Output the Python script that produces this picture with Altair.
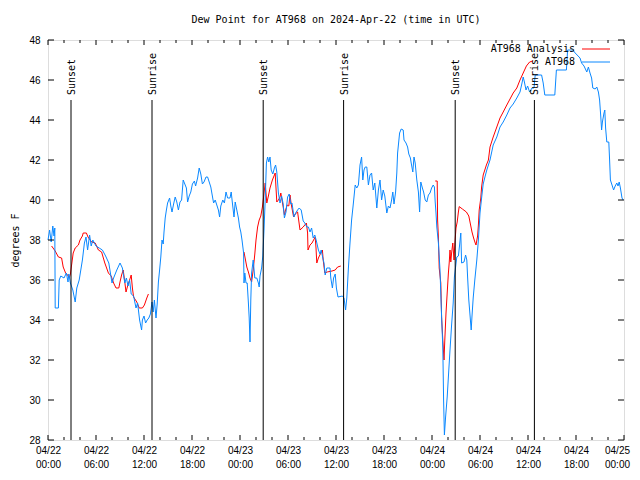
import altair as alt
import pandas as pd

FONT = "DejaVu Sans Mono"

# Observations (hours since 2024-04-22 00:00 UTC, degrees F)
blue_hours = [0.0, 0.2, 0.4, 0.6, 0.75, 0.85, 0.9, 1.3, 1.4, 1.6, 2.0, 2.3, 2.5, 2.6, 2.8, 3.1, 3.4, 3.6, 3.9,
              4.3, 4.55, 4.75, 4.95, 5.2, 5.4, 5.6, 6.0, 6.4, 6.8, 7.2, 7.6, 8.0, 8.2, 8.6, 9.0, 9.3, 9.6, 9.8,
              10.0, 10.2, 10.4, 10.7, 11.0, 11.2, 11.45, 11.7, 11.8, 12.0, 12.2, 12.4, 12.6, 12.8, 13.0, 13.15,
              13.3, 13.5, 13.65, 13.8, 13.95, 14.1, 14.25, 14.4, 14.5, 14.65, 14.8, 14.95, 15.2, 15.35, 15.5,
              15.7, 15.9, 16.1, 16.3, 16.5, 16.7, 16.9, 17.1, 17.3, 17.45, 17.65, 17.85, 18.05, 18.3, 18.45,
              18.7, 18.9, 19.1, 19.3, 19.5, 19.75, 19.95, 20.15, 20.35, 20.5, 20.7, 20.9, 21.1, 21.3, 21.45,
              21.6, 21.85, 22.05, 22.25, 22.45, 22.75, 22.9, 23.05, 23.25, 23.4, 23.6, 23.8, 23.95, 24.1, 24.25,
              24.45, 24.5, 24.6, 24.75, 24.9, 25.05, 25.15, 25.25, 25.35, 25.45, 25.65, 25.85, 26.1, 26.3, 26.4,
              26.5, 26.7, 26.85, 27.0, 27.15, 27.3, 27.45, 27.6, 27.75, 27.9, 28.1, 28.3, 28.45, 28.6, 28.8,
              29.0, 29.2, 29.4, 29.55, 29.75, 29.95, 30.15, 30.35, 30.5, 30.75, 30.95, 31.2, 31.4, 31.65, 31.9,
              32.1, 32.35, 32.55, 32.75, 32.95, 33.15, 33.35, 33.55, 33.8, 34.0, 34.15, 34.35, 34.5, 34.65,
              34.85, 35.25, 35.35, 35.55, 35.7, 35.9, 36.05, 36.25, 36.8, 37.0, 37.2, 37.35, 37.55, 37.75,
              37.95, 38.15, 38.4, 38.6, 38.8, 39.0, 39.2, 39.35, 39.5, 39.65, 39.85, 40.05, 40.25, 40.45,
              40.65, 40.85, 41.1, 41.3, 41.5, 41.7, 41.9, 42.1, 42.35, 42.55, 42.75, 42.95, 43.1, 43.25, 43.45,
              43.6, 43.7, 43.95, 44.15, 44.4, 44.5, 44.75, 44.95, 45.1, 45.3, 45.4, 45.6, 45.75, 45.9, 46.1,
              46.3, 46.45, 46.6, 46.8, 46.95, 47.15, 47.35, 47.55, 47.75, 47.95, 48.15, 48.3, 48.4, 48.5, 48.6,
              48.8, 49.0, 49.2, 49.35, 49.45, 49.55, 49.7, 49.9, 50.1, 50.25, 50.45, 50.65, 50.8, 50.95, 51.1,
              51.3, 51.45, 51.6, 51.7, 52.0, 52.2, 52.35, 52.45, 52.6, 52.75, 52.9, 53.0, 53.15, 53.35, 53.6,
              53.8, 54.0, 54.2, 54.4, 54.65, 54.85, 55.25, 55.65, 56.1, 56.5, 56.9, 57.35, 57.75, 58.15, 58.6,
              59.0, 59.25, 59.4, 59.55, 59.75, 59.95, 60.2, 60.5, 60.75, 60.9, 61.7, 61.9, 62.1, 63.35, 63.55,
              64.8, 64.95, 65.6, 65.9, 66.5, 66.7, 67.0, 67.35, 67.55, 67.75, 67.95, 68.1, 68.4, 68.6, 68.8,
              68.95, 69.1, 69.2, 69.3, 69.5, 69.6, 69.7, 69.85, 70.1, 70.2, 70.3, 70.5, 70.7, 70.9, 71.1,
              71.25, 71.4, 71.55, 71.75, 71.9]
blue_vals = [38.0, 38.5, 37.9, 38.7, 38.2, 38.6, 34.6, 34.6, 36.0, 36.2, 36.1, 36.35, 35.9, 36.3, 35.85, 35.5,
             34.9, 35.6, 36.0, 37.0, 37.85, 38.15, 37.5, 38.25, 37.7, 38.0, 37.7, 37.6, 37.5, 37.2, 36.85, 35.85,
             36.1, 36.5, 36.85, 36.6, 35.85, 36.1, 35.7, 36.0, 35.3, 35.2, 34.6, 34.85, 34.0, 33.5, 34.0, 34.2,
             33.85, 34.0, 34.1, 34.3, 34.9, 34.4, 35.0, 34.1, 34.8, 35.9, 36.5, 37.15, 38.0, 37.8, 38.4, 39.1,
             39.5, 39.85, 40.1, 39.7, 39.4, 39.8, 40.15, 39.9, 39.5, 39.9, 40.0, 41.0, 40.8, 40.6, 39.9, 40.2,
             40.4, 40.8, 40.95, 40.7, 41.1, 41.6, 41.3, 40.8, 40.9, 41.15, 41.15, 40.9, 40.65, 40.3, 39.85, 40.0,
             39.75, 39.5, 39.15, 39.7, 40.0, 39.85, 40.4, 40.1, 40.1, 40.4, 39.85, 39.15, 39.9, 39.5, 39.1, 38.65,
             38.4, 38.0, 37.35, 35.85, 36.35, 35.85, 35.85, 34.85, 34.1, 32.9, 35.0, 36.35, 37.0, 36.1, 36.1,
             35.85, 35.65, 36.2, 36.6, 37.2, 38.5, 40.0, 41.85, 42.15, 41.9, 42.15, 41.5, 41.3, 41.6, 41.75,
             41.4, 40.35, 39.85, 40.2, 39.8, 39.1, 39.4, 40.15, 40.3, 39.8, 39.85, 39.15, 39.35, 39.5, 39.6,
             39.5, 38.95, 38.85, 38.65, 38.65, 38.4, 38.6, 38.1, 38.25, 37.95, 37.5, 37.3, 37.5, 37.1, 36.85,
             36.25, 36.6, 36.6, 36.1, 35.6, 36.1, 36.3, 35.6, 35.15, 35.2, 35.1, 34.5, 35.1, 36.6, 37.85, 39.0,
             39.75, 40.75, 40.6, 40.75, 41.75, 42.15, 41.0, 41.5, 41.65, 41.65, 40.75, 41.25, 41.35, 40.5, 40.85,
             39.6, 40.5, 41.0, 40.0, 40.5, 40.2, 39.35, 39.7, 39.6, 40.0, 40.4, 39.8, 40.4, 41.35, 42.35, 43.35,
             43.55, 43.5, 43.0, 42.85, 42.65, 42.3, 42.1, 41.85, 41.4, 42.15, 41.85, 41.0, 40.4, 39.4, 40.9,
             40.6, 40.4, 40.0, 39.9, 40.25, 40.35, 40.6, 40.75, 40.65, 39.9, 39.35, 38.65, 37.85, 36.5, 34.15,
             32.65, 30.0, 28.25, 29.15, 30.15, 31.5, 32.5, 33.75, 34.85, 36.15, 36.65, 37.15, 37.2, 37.75, 38.35,
             36.85, 36.9, 37.25, 37.0, 36.15, 35.0, 34.25, 33.5, 34.2, 35.1, 36.0, 37.0, 38.0, 39.35, 40.1,
             40.8, 41.2, 41.5, 42.0, 42.75, 43.15, 43.65, 43.9, 44.25, 44.6, 44.8, 45.1, 45.4, 45.85, 46.15,
             45.9, 45.5, 45.7, 45.4, 45.6, 45.6, 46.25, 46.25, 45.85, 45.25, 45.25, 46.5, 46.5, 47.5, 47.5,
             47.35, 47.1, 46.85, 46.7, 46.4, 46.65, 46.35, 46.1, 45.6, 45.55, 45.65, 45.4, 45.0, 44.15, 43.5,
             43.9, 44.35, 44.5, 43.6, 42.9, 42.9, 42.0, 41.0, 40.75, 40.5, 40.7, 40.85, 40.7, 40.9, 40.6, 40.1,
             40.0]

# Analysis (three separate runs)
red_hours = [0.45, 0.9, 1.3, 1.7, 1.9, 2.2, 2.45, 2.65, 2.8, 2.9, 3.0, 3.15, 3.4, 3.8, 4.0, 4.3, 4.4, 4.8, 5.0,
             5.45, 5.9, 6.3, 6.7, 7.1, 7.55, 7.9, 8.2, 8.5, 8.85, 9.0, 9.2, 9.4, 9.6, 9.75, 9.95, 10.2, 10.4,
             10.55, 10.7, 11.1, 11.4, 11.8, 12.05, 12.35, 12.55,
             24.5, 24.85, 25.05, 25.25, 25.45, 25.65, 25.85, 26.0, 26.2, 26.4, 26.6, 26.8, 26.95, 27.15, 27.35,
             27.55, 27.75, 28.05, 28.4, 28.5, 28.6, 28.8, 29.0, 29.1, 29.4, 29.55, 29.7, 29.9, 30.1, 30.25, 30.4,
             30.7, 30.9, 31.2, 31.5, 31.9, 32.3, 32.45, 32.5, 32.75, 33.0, 33.2, 33.4, 33.5, 33.6, 33.8, 34.1,
             34.3, 34.4, 34.6, 34.9, 35.5, 35.9, 36.2, 36.6,
             48.4, 48.65, 48.7, 48.8, 48.9, 49.1, 49.2, 49.35, 49.5, 49.6, 49.75, 49.9, 50.05, 50.15, 50.25,
             50.35, 50.45, 50.6, 50.75, 50.85, 51.0, 51.15, 51.3, 51.4, 51.8, 52.3, 52.6, 52.8, 53.0, 53.2,
             53.4, 53.5, 53.7, 53.8, 53.9, 54.1, 54.2, 54.4, 54.6, 54.8, 55.05, 55.25, 55.65, 56.1, 56.5,
             56.9, 57.35, 57.75, 58.15, 58.6, 59.0, 59.4, 59.8, 60.2, 60.6]
red_vals = [37.7, 37.45, 37.15, 37.1, 36.65, 36.35, 36.25, 36.1, 36.3, 36.6, 36.9, 37.35, 37.6, 37.75, 38.0,
            38.2, 38.35, 38.35, 38.15, 37.9, 37.85, 37.5, 37.4, 36.85, 36.35, 36.2, 35.85, 35.6, 35.6, 35.9,
            36.25, 36.5, 35.9, 35.4, 35.7, 36.0, 36.25, 35.6, 35.15, 34.9, 34.6, 34.6, 34.75, 35.1, 35.3,
            37.4, 36.65, 36.4, 36.1, 35.9, 36.5, 37.3, 38.0, 38.65, 39.0, 39.2, 39.65, 40.15, 40.85, 39.85,
            40.2, 40.6, 41.0, 41.35, 40.6, 39.9, 40.0, 40.15, 40.35, 39.65, 39.25, 39.5, 39.75, 39.7, 40.25,
            39.8, 39.15, 39.3, 39.4, 38.5, 38.65, 38.85, 38.35, 37.5, 37.75, 37.85, 38.0, 38.15, 37.6, 36.85,
            37.1, 37.35, 37.5, 37.0, 36.35, 36.4, 36.45, 36.5, 36.65, 36.7,
            40.95, 40.95, 39.0, 38.15, 36.6, 35.85, 34.15, 33.0, 32.0, 33.0, 34.35, 35.35, 36.35, 36.85, 37.5,
            36.9, 37.35, 37.85, 37.0, 37.8, 38.6, 38.9, 39.4, 39.67, 39.55, 39.4, 39.2, 38.8, 38.4, 38.1,
            37.85, 37.75, 38.2, 38.75, 39.5, 40.1, 40.65, 41.25, 41.5, 41.75, 42.0, 42.65, 43.15, 43.65, 44.1,
            44.4, 44.75, 45.05, 45.35, 45.6, 46.0, 46.35, 46.7, 46.9, 46.95]

sun_hours = [2.875, 13.0, 26.9, 36.95, 50.9, 60.8]
sun_labels = ["Sunset", "Sunrise", "Sunset", "Sunrise", "Sunset", "Sunrise"]

x_major = list(range(0, 73, 6))
x_minor = [h for h in range(0, 73, 2) if h % 6 != 0]
y_ticks = list(range(28, 49, 2))

# segment ids for red gaps
seg, s = [], 0
for i, h in enumerate(red_hours):
    if i > 0 and h - red_hours[i - 1] > 3:
        s += 1
    seg.append(s)

blue_df = pd.DataFrame({"h": blue_hours, "v": blue_vals})
red_df = pd.DataFrame({"h": red_hours, "v": red_vals, "seg": seg})
sun_df = pd.DataFrame({"h": sun_hours, "label": sun_labels, "v": [45] * 6, "bot": [28] * 6})
xmaj_df = pd.DataFrame({"h": x_major})
xmin_df = pd.DataFrame({"h": x_minor})
yt_df = pd.DataFrame({"v": y_ticks})

XS = alt.Scale(domain=[0, 72], nice=False, zero=False)
YS = alt.Scale(domain=[28, 48], nice=False, zero=False)

label_expr = ("['04/' + (22 + floor(datum.value / 24)), "
              "(datum.value % 24 < 10 ? '0' : '') + (datum.value % 24) + ':00']")

x_axis = alt.Axis(values=x_major, labelExpr=label_expr, ticks=False, grid=False, domain=False,
                  title=None, labelPadding=5, labelLineHeight=14, labelBaseline="top",
                  labelFlush=False, labelOverlap=False, labelAlign="center",
                  labelOffset={"expr": "datum.value == 72 ? -7 : 0"})
y_axis = alt.Axis(values=y_ticks, ticks=False, grid=False, domain=False, title="degrees F",
                  labelPadding=8, titlePadding=8, labelFlush=False, titleFontWeight="normal",
                  titleFont=FONT, titleFontSize=10)


def X():
    return alt.X("h:Q", scale=XS, axis=x_axis)


def Y():
    return alt.Y("v:Q", scale=YS, axis=y_axis)


blue = alt.Chart(blue_df).mark_line(color="#0a88ff", strokeWidth=1).encode(x=X(), y=Y())
red = alt.Chart(red_df).mark_line(color="#ff0000", strokeWidth=1).encode(x=X(), y=Y(), detail="seg:N")
sun_rules = alt.Chart(sun_df).mark_rule(color="black", strokeWidth=1).encode(x=X(), y=Y(), y2="bot:Q")
sun_text = alt.Chart(sun_df).mark_text(angle=270, align="left", baseline="middle", dx=5, dy=1,
                                       font=FONT, fontSize=10, color="black").encode(
    x=X(), y=Y(), text="label:N")


def xticks(df, y0, y1):
    return alt.Chart(df).mark_rule(color="black", strokeWidth=1).encode(
        x=X(), y=alt.value(y0), y2=alt.value(y1))


def yticks(x0, x1):
    return alt.Chart(yt_df).mark_rule(color="black", strokeWidth=1).encode(
        y=Y(), x=alt.value(x0), x2=alt.value(x1))


ticks = [xticks(xmaj_df, 400, 395), xticks(xmin_df, 400, 397),
         xticks(xmaj_df, 0, 5), xticks(xmin_df, 0, 3),
         yticks(0, 6), yticks(576, 570)]

leg_t1 = alt.Chart(pd.DataFrame({"name": ["AT968 Analysis"]})).mark_text(
    align="right", baseline="middle", font=FONT, fontSize=10, color="black").encode(
    text="name:N", x=alt.value(527), y=alt.value(9))
leg_t2 = alt.Chart(pd.DataFrame({"name": ["AT968"]})).mark_text(
    align="right", baseline="middle", font=FONT, fontSize=10, color="black").encode(
    text="name:N", x=alt.value(527), y=alt.value(22))
leg_r1 = alt.Chart(pd.DataFrame({"name": ["AT968 Analysis"]})).mark_rule(color="#ff0000").encode(
    x=alt.value(534), x2=alt.value(562), y=alt.value(9))
leg_r2 = alt.Chart(pd.DataFrame({"name": ["AT968"]})).mark_rule(color="#0a88ff").encode(
    x=alt.value(534), x2=alt.value(562), y=alt.value(22))

chart = alt.layer(red, blue, sun_rules, sun_text, *ticks, leg_t1, leg_t2, leg_r1, leg_r2).properties(
    width=576, height=400,
    title=alt.TitleParams("Dew Point for AT968 on 2024-Apr-22 (time in UTC)", font=FONT, fontSize=10,
                          fontWeight="normal", offset=10, anchor="middle", color="black"),
    autosize=alt.AutoSizeParams(type="none"),
    padding={"left": 40, "top": 32, "right": 8, "bottom": 30},
).configure_view(stroke="black", strokeWidth=1).configure_axis(
    labelFont=FONT, labelFontSize=10, labelColor="black", titleFont=FONT, titleFontSize=10,
    titleFontWeight="normal", titleColor="black"
).configure(background="white")

chart.save("out.html", embed_options={"renderer": "svg", "actions": False})
